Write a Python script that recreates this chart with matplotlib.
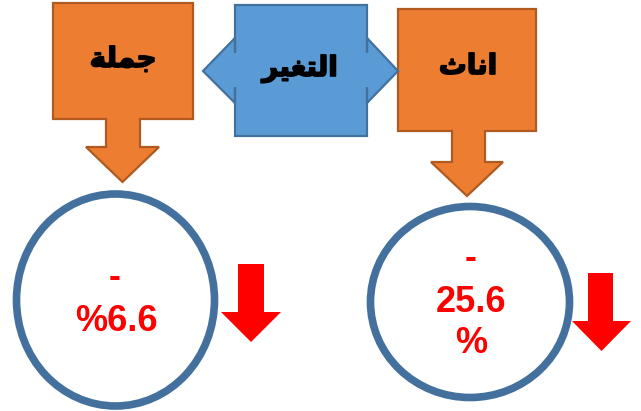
import matplotlib
matplotlib.use("Agg")
import matplotlib.pyplot as plt
import matplotlib.patheffects as pe
from matplotlib.patches import Polygon, Ellipse

# labels (Arabic, written in presentation forms in visual order, because
# matplotlib does no Arabic shaping)
label_total = "\uFE94\uFEE0\uFEE4\uFE9F"               # جملة
label_change = "\uFEAE\uFEF4\uFED0\uFE98\uFEDF\uFE8D"  # التغير
label_female = "\uFE99\uFE8E\uFEE7\uFE8D"              # اناث
change_total = -6.6
change_female = -25.6

orange, orange_edge = "#ED7D31", "#AE5A21"
blue, blue_edge = "#5B9BD5", "#41719C"
ring = "#44709D"
red = "#FF0000"

fig = plt.figure(figsize=(6.41, 4.11), dpi=100)
ax = fig.add_axes([0, 0, 1, 1])
ax.set_xlim(0, 641)
ax.set_ylim(411, 0)
ax.axis("off")


def down_callout(x0, x1, y0, y1, s0, s1, yb, h0, h1, ytip):
    xt = (h0 + h1) / 2
    pts = [(x0, y0), (x1, y0), (x1, y1), (s1, y1), (s1, yb), (h1, yb),
           (xt, ytip), (h0, yb), (s0, yb), (s0, y1), (x0, y1)]
    ax.add_patch(Polygon(pts, closed=True, fc=orange, ec=orange_edge, lw=1.6))


def red_arrow(s0, s1, ytop, yb, h0, h1, ytip):
    xt = (h0 + h1) / 2
    pts = [(s0, ytop), (s1, ytop), (s1, yb), (h1, yb), (xt, ytip), (h0, yb), (s0, yb)]
    ax.add_patch(Polygon(pts, closed=True, fc=red, ec="none"))


# orange callouts
down_callout(53, 193, 3, 119, 106, 140, 147, 86, 159, 182)
down_callout(398, 536, 9, 131, 452, 485, 162, 431, 503, 196)

# blue left-right arrow callout
pts = [(235, 5), (367, 5), (367, 53), (367, 38), (398, 71), (367, 103),
       (367, 87), (367, 136), (235, 136), (235, 87), (235, 103), (203, 71),
       (235, 38), (235, 53)]
ax.add_patch(Polygon(pts, closed=True, fc=blue, ec=blue_edge, lw=1.6))

# circles
ax.add_patch(Ellipse((115.5, 300), 198, 212, fc="white", ec=ring, lw=5.5))
ax.add_patch(Ellipse((470, 302), 199, 191, fc="white", ec=ring, lw=5.5))

# red down arrows
red_arrow(238, 264, 264, 312, 221, 281, 342)
red_arrow(588, 613, 273, 321, 572, 631, 351)

# labels
heavy = [pe.withStroke(linewidth=1.2, foreground="black")]
afont = dict(family=["DejaVu Sans"], fontweight="bold", color="black",
             ha="center", va="center", path_effects=heavy)
ax.text(123, 59, label_total, fontsize=20, **afont)
ax.text(300, 69, label_change, fontsize=20, **afont)
ax.text(468, 66, label_female, fontsize=20, **afont)

nfont = dict(family=["Liberation Sans", "DejaVu Sans"], fontweight="bold",
             color=red, ha="center", va="center", fontsize=26)
ax.text(115, 277, "-", **nfont)
ax.text(116, 321, "%" + f"{abs(change_total):.1f}", **nfont)
ax.text(471, 258, "-", **nfont)
ax.text(471, 302, f"{abs(change_female):.1f}", **nfont)
ax.text(471, 343, "%", **nfont)

fig.savefig("out.png", dpi=100)
